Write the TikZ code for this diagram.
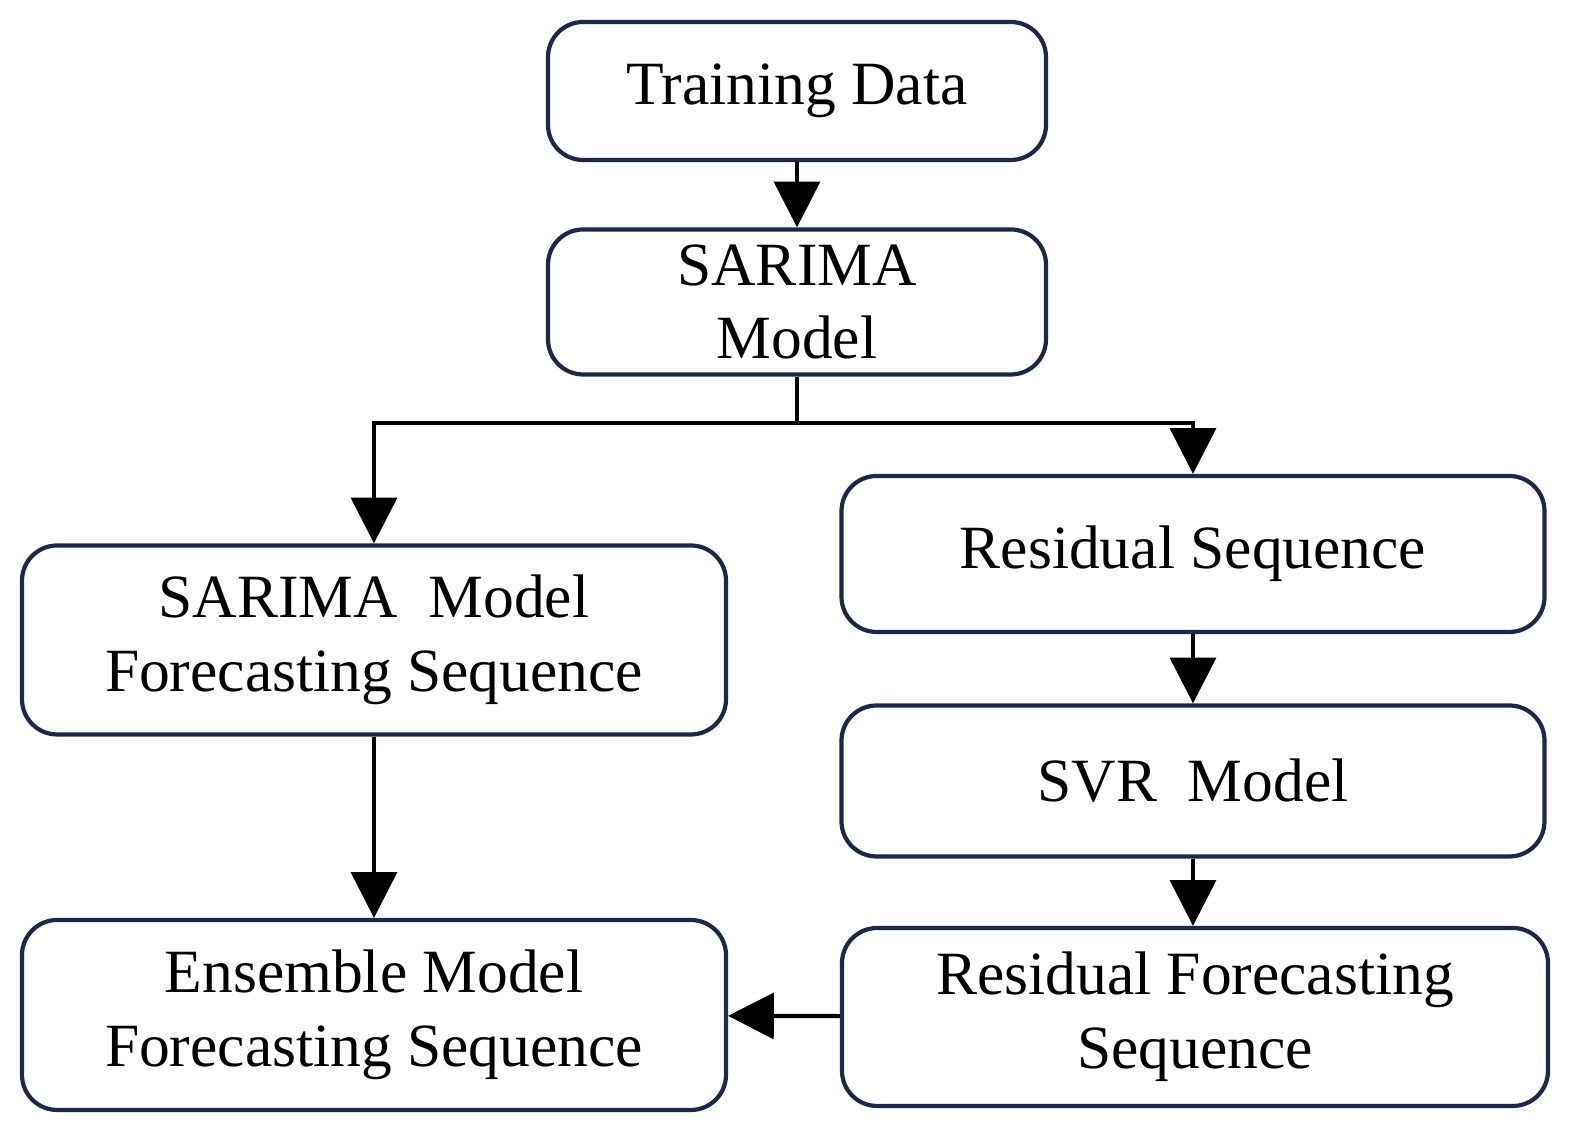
\documentclass[tikz,border=0pt]{standalone}
\usepackage{fontspec}
\setmainfont{Liberation Serif}
\usetikzlibrary{arrows.meta}
\definecolor{boxline}{RGB}{30,40,70}
\tikzset{
  box/.style={draw=boxline, line width=1.2pt, rounded corners=10pt, align=center,
    font=\fontsize{17.5}{21}\selectfont, inner sep=0pt},
  arr/.style={line width=1.2pt, -{Triangle[width=13pt,length=13pt]}}
}
\begin{document}
\begin{tikzpicture}
        \useasboundingbox (0,0) rectangle (15.75,11.41);

        % boxes
        \node[box, minimum width=4.98cm, minimum height=1.38cm] (train) at (7.97,10.50) {Training Data};
        \node[box, minimum width=4.98cm, minimum height=1.45cm] (sarima) at (7.97,8.39) {SARIMA\\Model};
        \node[box, minimum width=7.04cm, minimum height=1.89cm] (sfore) at (3.74,5.01) {SARIMA~ Model\\Forecasting Sequence};
        \node[box, minimum width=7.04cm, minimum height=1.90cm] (ens) at (3.74,1.26) {Ensemble Model\\Forecasting Sequence};
        \node[box, minimum width=7.03cm, minimum height=1.56cm] (resid) at (11.93,5.87) {Residual Sequence};
        \node[box, minimum width=7.03cm, minimum height=1.51cm] (svr) at (11.93,3.60) {SVR~ Model};
        \node[box, minimum width=7.06cm, minimum height=1.78cm] (rfore) at (11.95,1.24) {Residual Forecasting\\Sequence};

        % split point under SARIMA
        \coordinate (split) at (7.97,7.18);

        % arrows
        \draw[arr] (train) -- (sarima);
        \draw[line width=1.2pt] (sarima) -- (split);
        \draw[arr] (split) -| (sfore);
        \draw[arr] (split) -| (resid);
        \draw[arr] (resid) -- (svr);
        \draw[arr] (svr.south) -- (svr.south |- rfore.north);
        \draw[arr] (sfore) -- (ens);
        \draw[arr] (rfore) -- (ens);
\end{tikzpicture}
\end{document}
